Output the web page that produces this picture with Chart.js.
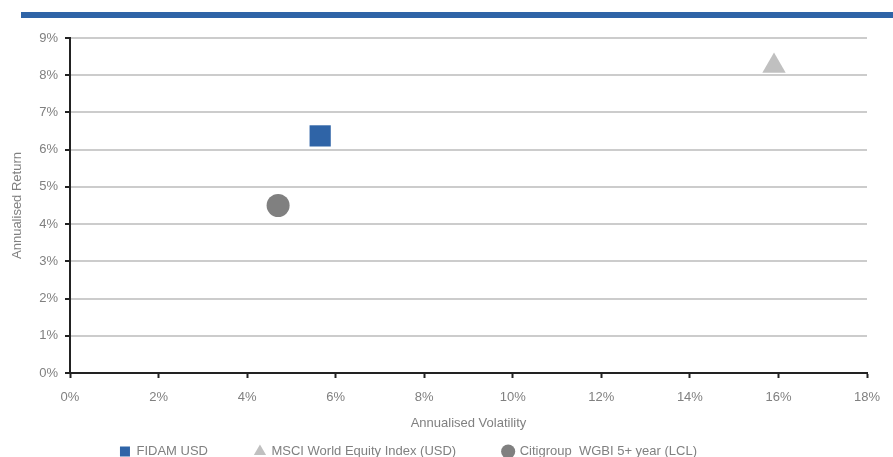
<!DOCTYPE html>
<html>
<head>
<meta charset="utf-8">
<script src="https://cdn.jsdelivr.net/npm/chart.js@4.4.1/dist/chart.umd.min.js"></script>
<style>
  html, body { margin: 0; padding: 0; background: #fff; overflow: hidden; }
  #wrap { position: relative; width: 893px; height: 474px; }
  #topBar { position: absolute; left: 21px; top: 12px; width: 872px; height: 6px; background: #2f64a7; }
  canvas { position: absolute; left: 0; top: 0; }
</style>
</head>
<body>
<div id="wrap">
  <div id="topBar"></div>
  <canvas id="riskReturn" width="893" height="474"></canvas>
</div>
<script>
// values (percent)
const seriesNames = ['FIDAM USD', 'MSCI World Equity Index (USD)', 'Citigroup  WGBI 5+ year (LCL)'];
const volatility = [5.65, 15.9, 4.7];
const annualReturn = [6.37, 8.25, 4.5];
const xTickLabels = ['0%', '2%', '4%', '6%', '8%', '10%', '12%', '14%', '16%', '18%'];
const yTickLabels = ['0%', '1%', '2%', '3%', '4%', '5%', '6%', '7%', '8%', '9%'];

const textGrey = '#808080';
const axisBlack = '#222222';

Chart.defaults.font.family = "'Liberation Sans', Arial, sans-serif";
Chart.defaults.font.size = 13;

// nudge the legend row left/up so it sits where the original one does
const legendShift = {
  id: 'legendShift',
  afterLayout(chart) {
    chart.legend.left -= 25;
    chart.legend.right -= 25;
    chart.legend.top -= 6;
    chart.legend.bottom -= 6;
  },
};

function pointOf(i) {
  return [{ x: volatility[i], y: annualReturn[i] }];
}

const ctx = document.getElementById('riskReturn').getContext('2d');

const chartInstance = new Chart(ctx, {
  type: 'scatter',
  data: {
    datasets: [
      {
        label: seriesNames[0],
        data: pointOf(0),
        pointStyle: 'rect',
        pointRadius: 15,
        backgroundColor: '#2f64a7',
        borderColor: '#2f64a7',
        borderWidth: 0,
      },
      {
        label: seriesNames[1],
        data: pointOf(1),
        pointStyle: 'triangle',
        pointRadius: 13.5,
        backgroundColor: '#c0c0c0',
        borderColor: '#c0c0c0',
        borderWidth: 0,
      },
      {
        label: seriesNames[2],
        data: pointOf(2),
        pointStyle: 'circle',
        pointRadius: 11.5,
        backgroundColor: '#808080',
        borderColor: '#808080',
        borderWidth: 0,
      },
    ],
  },
  options: {
    responsive: false,
    animation: false,
    layout: {
      padding: { top: 38, right: 26, left: 0, bottom: 0 },
    },
    scales: {
      x: {
        type: 'linear',
        min: 0,
        max: 18,
        ticks: {
          stepSize: 2,
          padding: 12,
          color: textGrey,
          callback: (value, index) => xTickLabels[index],
        },
        grid: {
          drawOnChartArea: false,
          tickLength: 5,
          tickColor: axisBlack,
          tickWidth: 2,
        },
        border: { color: axisBlack, width: 2 },
        title: {
          display: true,
          text: 'Annualised Volatility',
          color: textGrey,
          padding: { top: 0, bottom: -27 },
        },
        afterFit: (scale) => { scale.height = 31; },
      },
      y: {
        min: 0,
        max: 9,
        ticks: {
          stepSize: 1,
          padding: 7,
          color: textGrey,
          callback: (value, index) => yTickLabels[index],
        },
        grid: {
          color: '#cccccc',
          lineWidth: 2,
          tickLength: 5,
          tickColor: axisBlack,
          tickWidth: 2,
        },
        border: { color: axisBlack, width: 2 },
        title: {
          display: true,
          text: 'Annualised Return',
          color: textGrey,
          padding: { top: 10, bottom: 0 },
        },
        afterFit: (scale) => { scale.width = 70; },
      },
    },
    plugins: {
      legend: {
        position: 'bottom',
        labels: {
          usePointStyle: true,
          boxWidth: 10,
          boxHeight: 10,
          padding: 47,
          color: textGrey,
        },
      },
      tooltip: { enabled: false },
    },
  },
  plugins: [legendShift],
});
</script>
</body>
</html>
